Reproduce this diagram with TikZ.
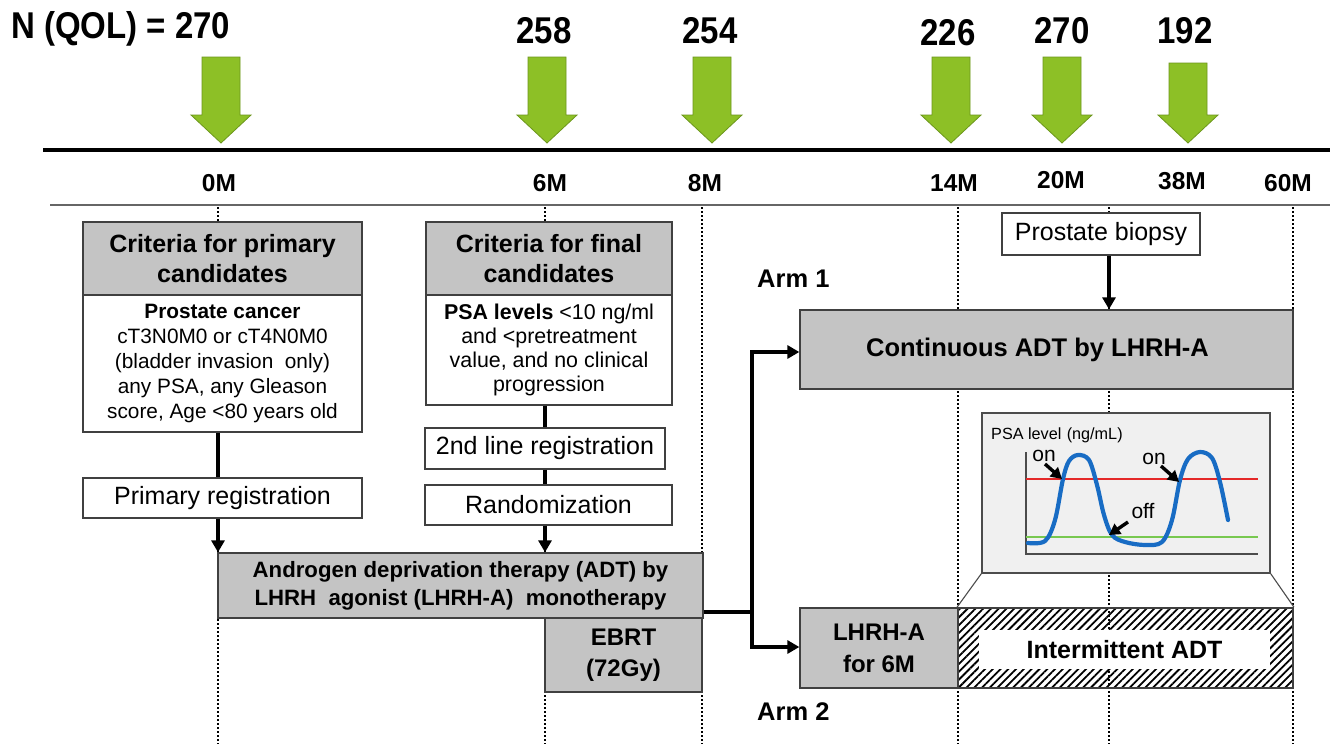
\documentclass[tikz,border=0pt]{standalone}
\usepackage{fontspec}
\setmainfont{Liberation Sans}
\usetikzlibrary{arrows.meta,patterns.meta}
\definecolor{boxgray}{RGB}{196,196,196}
\definecolor{graphbg}{RGB}{240,240,240}
\definecolor{agreen}{RGB}{141,192,38}
\definecolor{agreenb}{RGB}{108,150,28}
\definecolor{curveblue}{RGB}{24,108,196}
\definecolor{psared}{RGB}{228,40,40}
\definecolor{psagreen}{RGB}{120,200,80}
\newcommand{\fs}[2]{\fontsize{#1}{#2}\selectfont}
\newcommand{\tall}[1]{\scalebox{1}[1.13]{#1}}
\begin{document}
\begin{tikzpicture}[x=1pt,y=-1pt,
  box/.style={draw=black!75, line width=1.3pt, inner sep=0pt, align=center},
  graybox/.style={box, fill=boxgray},
  whitebox/.style={box, fill=white},
  conn/.style={line width=3.3pt},
  arr/.style={conn, -{Triangle[length=12pt,width=13pt]}},
  vdot/.style={line width=2.8pt, dash pattern=on 2.2pt off 1.8pt},
  garrow/.style={fill=agreen, draw=agreenb, line width=0.8pt, line join=miter},
  num/.style={font=\fs{33}{36}\bfseries, inner sep=0pt},
  tick/.style={font=\fs{24.5}{26}\bfseries, inner sep=0pt},
  armlbl/.style={font=\fs{25.5}{28}\bfseries, inner sep=0pt, anchor=west},
  smallarr/.style={line width=3.4pt, -{Triangle[length=11pt,width=12pt]}},
  lbl/.style={font=\fs{21}{23}, inner sep=0pt}
]
\useasboundingbox[fill=white] (0,0) rectangle (1330,744);

% ---- top numbers ----
\node[num, anchor=west] (nq) at (11,29) {\tall{N (QOL) = 270}};
\node[num] (n6) at (544,31) {\tall{258}};
\node[num] (n8) at (710,31) {\tall{254}};
\node[num] (n14) at (948,33) {\tall{226}};
\node[num] (n20) at (1062,31) {\tall{270}};
\node[num] (n38) at (1185,31) {\tall{192}};

% ---- green arrows ----
\foreach \cx/\tp in {221/57, 547/57, 712/57, 951/57, 1062/57, 1188/63}
  \draw[garrow] (\cx-19,\tp) -- (\cx+19,\tp) -- (\cx+19,115) -- (\cx+30,115)
     -- (\cx,143) -- (\cx-30,115) -- (\cx-19,115) -- cycle;

% ---- timeline ----
\draw[line width=3.4pt] (43,150) -- (1330,150);
\draw[line width=1.4pt, black!60] (50,205) -- (1330,205);
\node[tick] (t0) at (219,183) {0M};
\node[tick] (t6) at (550,183) {6M};
\node[tick] (t8) at (705,183) {8M};
\node[tick] (t14) at (954,183) {14M};
\node[tick] (t20) at (1061,180) {20M};
\node[tick] (t38) at (1182,181) {38M};
\node[tick] (t60) at (1288,183) {60M};

% ---- dotted verticals ----
\foreach \x in {218,545,702,958,1109,1293}
  \draw[vdot] (\x,207) -- (\x,744);

% ---- left column ----
\node[graybox, minimum width=279, minimum height=73, font=\fs{25}{30}\bfseries] (ch1) at (222.5,258.5) {Criteria for primary\\candidates};
\node[whitebox, minimum width=279, minimum height=137, font=\fs{20.8}{25}] (cb1) at (222.5,363.5)
  {\textbf{Prostate cancer}\\cT3N0M0 or cT4N0M0\\(bladder invasion\ \ only)\\any PSA, any Gleason\\score, Age <80 years old};
\node[whitebox, minimum width=279, minimum height=40, font=\fs{25}{27}] (pr) at (222.5,498) {Primary registration};

% ---- middle column ----
\node[graybox, minimum width=246, minimum height=73, font=\fs{25}{30}\bfseries] (ch2) at (549,258.5) {Criteria for final\\candidates};
\node[whitebox, minimum width=246, minimum height=110, font=\fs{21.4}{24}] (cb2) at (549,350)
  {\textbf{PSA levels} <10 ng/ml\\and <pretreatment\\value, and no clinical\\progression};
\node[whitebox, minimum width=240, minimum height=41, font=\fs{25}{27}] (reg2) at (545,448.5) {2nd line registration};
\node[whitebox, minimum width=247, minimum height=40, font=\fs{25}{27}] (rnd) at (548.5,505) {Randomization};

% ---- ADT & EBRT ----
\node[graybox, minimum width=485, minimum height=65, font=\fs{22.2}{28}\bfseries] (adt) at (460.5,585.5)
  {Androgen deprivation therapy (ADT) by\\LHRH\ \ agonist (LHRH-A)\ \ monotherapy};
\node[graybox, minimum width=157, minimum height=74, font=\fs{24}{31}\bfseries] (ebrt) at (623.5,655) {EBRT\\(72Gy)};

% ---- connectors left/middle ----
\draw[conn] (cb1.south -| 218,0) -- (pr.north -| 218,0);
\draw[arr] (pr.south -| 218,0) -- (adt.north -| 218,0);
\draw[conn] (cb2.south -| 545,0) -- (reg2.north -| 545,0);
\draw[conn] (reg2.south -| 545,0) -- (rnd.north -| 545,0);
\draw[arr] (rnd.south -| 545,0) -- (adt.north -| 545,0);

% ---- right side ----
\node[armlbl] (arm1) at (757,279) {Arm 1};
\node[armlbl] (arm2) at (757,712) {Arm 2};
\node[whitebox, minimum width=198, minimum height=42, font=\fs{25}{27}] (bio) at (1101,234) {Prostate biopsy};
\node[graybox, minimum width=493, minimum height=79, font=\fs{25.5}{28}\bfseries] (cont) at (1046.5,349.5) {Continuous ADT by LHRH-A\hspace*{18pt}};
\draw[arr] (bio.south -| 1109,0) -- (cont.north -| 1109,0);

\node[graybox, minimum width=158, minimum height=80, font=\fs{24}{32}\bfseries] (lhrh) at (879,648) {LHRH-A\\for 6M};
\node[box, minimum width=335, minimum height=80, fill=white,
  pattern={Lines[angle=45,distance=5.5pt,line width=1.8pt]}] (inter) at (1125.5,648) {};
\node[box, draw=none, fill=white, minimum width=291, minimum height=39, font=\fs{25}{27}\bfseries] (interlbl) at (1124.5,649.5) {Intermittent ADT};

% split connector
\coordinate (split) at (752,612);
\draw[conn] (adt.east |- split) -- (split);
\draw[arr] (split) |- (cont.west |- 0,352);
\draw[arr] (split) |- (lhrh.west |- 0,647);

% ---- PSA graph ----
\node[box, draw=black!70, line width=1.4pt, fill=graphbg, minimum width=288, minimum height=160] (graph) at (1126,493) {};
\draw[black!70, line width=1.1pt] (graph.south west) -- (inter.north west);
\draw[black!70, line width=1.1pt] (graph.south east) -- (inter.north east);
\node[font=\fs{16.2}{18}, inner sep=0pt, anchor=west] (psalbl) at (991,435) {PSA level\,\,(ng/mL)};
\coordinate (ax0) at (1026,554);
\draw[black!70, line width=1.4pt] (1026,452) -- (ax0) -- (1258,554);
\draw[psared, line width=1.2pt] (1026,479) -- (1258,479);
\draw[psagreen, line width=1.2pt] (1026,537) -- (1258,537);
\draw[curveblue, line width=4.2pt, line cap=round] plot[smooth, tension=0.55] coordinates {
 (1028,543) (1045,541) (1055,520) (1063,479) (1069,461) (1078,455) (1089,460)
 (1097,485) (1104,515) (1112,535) (1125,542) (1145,545) (1162,542) (1172,520)
 (1180,480) (1188,459) (1200,452) (1212,458) (1220,482) (1228,520)};
\node[lbl] (on1) at (1044,456) {on};
\node[lbl] (on2) at (1154,459) {on};
\node[lbl] (off) at (1143,511) {off};
\coordinate (on1t) at (1062,479);
\coordinate (on2t) at (1179,482);
\coordinate (offt) at (1109,535);
\draw[smallarr] (1045,464) -- (on1t);
\draw[smallarr] (1161,466) -- (on2t);
\draw[smallarr] (1128,522) -- (offt);
\end{tikzpicture}
\end{document}
